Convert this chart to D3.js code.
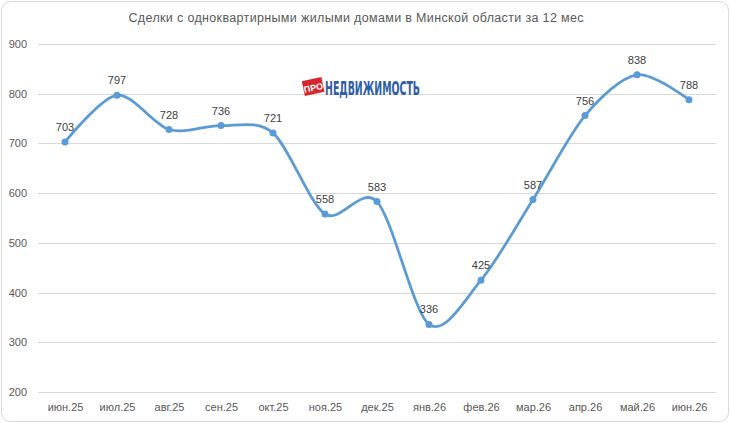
<!DOCTYPE html>
<html>
<head>
<meta charset="utf-8">
<script src="https://cdn.jsdelivr.net/npm/d3@7"></script>
<style>
  body { margin: 0; background: #fff; }
  svg { display: block; font-family: "Liberation Sans", Arial, sans-serif; }
</style>
</head>
<body>
<svg id="chart"></svg>
<script>
const months = ["июн.25", "июл.25", "авг.25", "сен.25", "окт.25", "ноя.25", "дек.25",
  "янв.26", "фев.26", "мар.26", "апр.26", "май.26", "июн.26"]
const deals = [703, 797, 728, 736, 721, 558, 583, 336, 425, 587, 756, 838, 788]
const yTicks = [200, 300, 400, 500, 600, 700, 800, 900]

const w = 730
const h = 423
const plotLeft = 39
const plotRight = 715
const plotTop = 44
const plotBottom = 392

const svg = d3.select("#chart").attr("width", w).attr("height", h)

// chart frame
svg.append("rect")
  .attr("x", 1.5).attr("y", 1.5)
  .attr("width", w - 3).attr("height", h - 3)
  .attr("rx", 9)
  .attr("fill", "#fff")
  .attr("stroke", "#d9d9d9")

const xScale = d3.scalePoint()
  .domain(months)
  .range([plotLeft, plotRight])
  .padding(0.5)

const yScale = d3.scaleLinear()
  .domain([200, 900])
  .range([plotBottom, plotTop])

// grid
svg.append("g")
  .selectAll("line")
  .data(yTicks)
  .enter()
  .append("line")
  .attr("x1", plotLeft - 1)
  .attr("x2", plotRight + 1)
  .attr("y1", (d) => Math.round(yScale(d)) + 0.5)
  .attr("y2", (d) => Math.round(yScale(d)) + 0.5)
  .attr("stroke", "#d9d9d9")
  .attr("stroke-width", 1)

const yAxis = d3.axisLeft(yScale).tickValues(yTicks).tickSize(0).tickPadding(12)
const yG = svg.append("g")
  .attr("transform", `translate(${plotLeft},0)`)
  .call(yAxis)
yG.select(".domain").remove()
yG.selectAll("text").attr("fill", "#595959").style("font-size", "11px")

const xAxis = d3.axisBottom(xScale).tickSize(0).tickPadding(11)
const xG = svg.append("g")
  .attr("transform", `translate(0,${plotBottom})`)
  .call(xAxis)
xG.select(".domain").remove()
xG.selectAll("text").attr("fill", "#595959").style("font-size", "11px")

// title
svg.append("text")
  .attr("x", 356)
  .attr("y", 22)
  .attr("text-anchor", "middle")
  .attr("fill", "#595959")
  .style("font-size", "12.5px")
  .attr("textLength", 455)
  .attr("lengthAdjust", "spacing")
  .text("Сделки с одноквартирными жилыми домами в Минской области за 12  мес")

// logo
const logo = svg.append("g").attr("transform", "translate(303,78)")
logo.append("rect")
  .attr("x", 0).attr("y", 1)
  .attr("width", 20).attr("height", 15)
  .attr("fill", "#d7262e")
  .attr("transform", "rotate(-12 10 8)")
logo.append("text")
  .attr("x", 10).attr("y", 13)
  .attr("text-anchor", "middle")
  .attr("fill", "#fff")
  .attr("font-weight", "bold")
  .style("font-size", "9px")
  .attr("transform", "rotate(-12 10 8)")
  .text("ПРО")
logo.append("text")
  .attr("x", 22).attr("y", 17)
  .attr("fill", "#2f5ea8")
  .attr("font-weight", "bold")
  .style("font-family", "'Liberation Sans Narrow', 'DejaVu Sans Condensed', sans-serif")
  .style("font-size", "19px")
  .attr("textLength", 95)
  .attr("lengthAdjust", "spacingAndGlyphs")
  .text("НЕДВИЖИМОСТЬ")

// smoothed line
const line = d3.line()
  .x((d, i) => xScale(months[i]))
  .y((d) => yScale(d))
  .curve(d3.curveCardinal.tension(0.1))

svg.append("path")
  .datum(deals)
  .attr("d", line)
  .attr("fill", "none")
  .attr("stroke", "#5b9bd5")
  .attr("stroke-width", 2.75)
  .attr("stroke-linecap", "round")

svg.selectAll("circle")
  .data(deals)
  .enter()
  .append("circle")
  .attr("cx", (d, i) => xScale(months[i]))
  .attr("cy", (d) => yScale(d))
  .attr("r", 3.5)
  .attr("fill", "#5b9bd5")

svg.selectAll(".lbl")
  .data(deals)
  .enter()
  .append("text")
  .attr("class", "lbl")
  .attr("x", (d, i) => xScale(months[i]))
  .attr("y", (d) => yScale(d) - 11)
  .attr("text-anchor", "middle")
  .attr("fill", "#404040")
  .style("font-size", "11px")
  .text((d) => d)
</script>
</body>
</html>
